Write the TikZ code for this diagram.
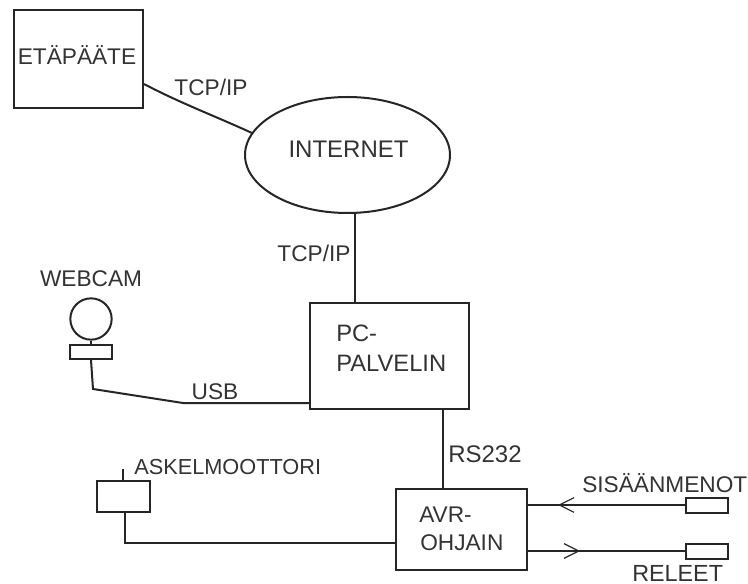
\documentclass[tikz,border=0pt]{standalone}
\usepackage{fontspec}
\setmainfont{Liberation Sans}
\usetikzlibrary{shapes.geometric,arrows.meta}
\tikzset{
 lbl/.style={inner sep=0pt,font=\fontsize{17}{22.5}\selectfont,text=black!80},
 box/.style={draw=black!85,line width=1.5pt,inner sep=0pt},
 wire/.style={draw=black!85,line width=1.5pt},
 barb/.style={-{Straight Barb[length=11pt,width=11pt,line width=0.9pt]}},
}
\begin{document}
\begin{tikzpicture}[x=0.75pt,y=-0.75pt]
\useasboundingbox (0,0) rectangle (748,584);
\fill[white] (0,0) rectangle (748,584);
\node[box,minimum width=96.75pt,minimum height=73.5pt,anchor=north west] (term) at (13,9) {};
\node[lbl] (termt) at (77,55) {ETÄPÄÄTE};
\node[box,ellipse,minimum width=153.75pt,minimum height=87pt] (net) at (347.5,155) {};
\node[lbl,font=\fontsize{18}{22}\selectfont] (nett) at (348.5,149) {INTERNET};
\node[box,minimum width=119.25pt,minimum height=79.5pt,anchor=north west] (pc) at (309,302) {};
\node[lbl,align=left,anchor=west,font=\fontsize{17.8}{22.5}\selectfont] (pct1) at (336,333) {PC-};
\node[lbl,align=left,anchor=west,font=\fontsize{17.8}{22.5}\selectfont] (pct2) at (336,363) {PALVELIN};
\node[box,minimum width=98.25pt,minimum height=60.75pt,anchor=north west] (avr) at (395,488) {};
\node[lbl,anchor=west] (avrt1) at (419,515) {AVR-};
\node[lbl,anchor=west] (avrt2) at (420,543) {OHJAIN};
\node[box,circle,minimum width=31pt] (cam) at (91,319) {};
\node[box,minimum width=31.5pt,minimum height=10.5pt] (usbb) at (91,352) {};
\node[box,minimum width=39.75pt,minimum height=23.25pt] (motor) at (123.5,496.5) {};
\node[box,minimum width=31.5pt,minimum height=11.25pt] (sis) at (707,505) {};
\node[box,minimum width=31.5pt,minimum height=11.25pt] (rel) at (707,551) {};
\node[lbl] at (91,279) (webt) {WEBCAM};
\node[lbl,anchor=west,font=\fontsize{16.3}{20}\selectfont] at (134,467) (askt) {ASKELMOOTTORI};
\node[lbl,anchor=west] at (582,483) (sist) {SISÄÄNMENOT};
\node[lbl,anchor=west,font=\fontsize{17.5}{20}\selectfont] at (632,573) (relt) {RELEET};
\node[lbl] at (211,87) (t1) {TCP/IP};
\node[lbl] at (314,253) (t2) {TCP/IP};
\node[lbl] at (215,392) (t3) {USB};
\node[lbl,font=\fontsize{18}{20}\selectfont] at (485,454) (t4) {RS232};
\coordinate (b1) at (term.east |- 0,84);
\coordinate (b2) at (252,133);
\draw[wire] (b1) .. controls (180,103) and (215,116) .. (b2);
\coordinate (c1) at (net.south -| 355,0);
\coordinate (c2) at (pc.north -| 355,0);
\draw[wire] (355,213) -- (c2);
\draw[wire] (cam.south) -- (usbb.north);
\coordinate (u1) at (93,389);
\coordinate (u2) at (183,403);
\coordinate (u3) at (pc.west |- 0,403);
\draw[wire] (usbb.south) -- (u1) -- (u2) -- (u3);
\coordinate (r1) at (pc.south -| 443,0);
\coordinate (r2) at (avr.north -| 443,0);
\draw[wire] (r1) -- (r2);
\coordinate (m1) at (motor.south -| 125,0);
\coordinate (m2) at (125,543);
\coordinate (m3) at (avr.west |- 0,543);
\draw[wire] (m1) -- (m2) -- (m3);
\coordinate (p1) at (123,469);
\draw[wire,line width=1.1pt] (p1) -- (motor.north -| p1);
\coordinate (s1) at (avr.east |- sis);
\coordinate (s2) at (558,505);
\coordinate (e1) at (avr.east |- rel);
\coordinate (e2) at (580,551);
\draw[wire] (sis.west) -- (s1);
\draw[wire] (e1) -- (rel.west);
\draw[barb,draw=black!85] (sis.west) -- (s2);
\draw[barb,draw=black!85] (e1) -- (e2);
\end{tikzpicture}
\end{document}
